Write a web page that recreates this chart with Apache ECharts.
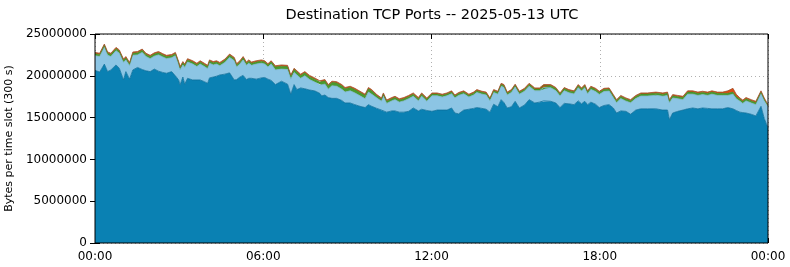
<!DOCTYPE html>
<html>
<head>
<meta charset="utf-8">
<script src="https://cdn.jsdelivr.net/npm/echarts@6/dist/echarts.min.js"></script>
<style>
html,body{margin:0;padding:0;background:#fff;}
#c{width:790px;height:267px;}
</style>
</head>
<body>
<div id="c"></div>
<script>
// minutes since 00:00 UTC, 2025-05-13
const times = [
0,10,20,27,34,45,52,61,66,74,81,91,101,109,118,127,136,145,153,164,172,179,182,188,192,198,209,218,225,234,241,
245,253,260,267,278,288,298,303,310,317,324,329,335,345,356,363,370,377,386,399,412,419,426,432,440,449,459,470,481,
485,492,499,507,517,528,535,546,556,567,578,585,592,603,613,617,624,635,642,651,661,671,681,692,699,710,
721,732,743,753,763,770,778,789,800,810,817,828,837,845,853,862,869,875,882,891,899,908,919,929,941,951,960,
964,975,986,995,1004,1014,1025,1034,1041,1048,1054,1061,1071,1079,1089,1100,1109,1116,1125,1136,1146,1157,1168,1182,1200,
1204,1215,1225,1229,1236,1247,1258,1268,1279,1290,1300,1311,1320,1332,1343,1354,1365,1372,1380,1386,1393,1404,1414,1425,1432,1440
];
// values in millions of bytes per slot
const darkBlue = [
20.65,20.45,21.4,20.5,20.7,21.3,20.9,19.5,20.5,19.6,20.7,21.0,20.75,20.6,20.5,20.8,20.55,20.4,20.3,20.5,20.0,19.5,18.9,19.85,19.0,19.7,19.5,19.5,19.5,19.3,19.1,
19.75,19.85,19.95,20.1,20.2,20.35,19.5,19.55,19.85,20.05,19.55,19.7,19.7,19.6,19.75,19.8,19.6,19.45,18.95,19.35,19.0,17.8,18.95,18.35,18.55,18.45,18.3,18.2,17.9,
17.6,17.7,17.4,17.3,17.3,17.05,16.75,16.75,16.55,16.35,16.2,16.55,16.35,16.1,15.9,15.75,15.65,15.8,15.8,15.65,15.65,15.75,16.15,15.8,16.0,15.85,
15.75,15.9,15.9,15.9,16.15,15.55,15.45,15.9,16.0,16.1,16.2,16.1,16.0,15.65,16.6,16.3,17.15,16.8,16.15,16.3,16.95,16.15,16.5,17.15,16.75,16.85,17.0,
16.9,16.95,16.75,16.2,16.7,16.65,16.55,17.0,16.65,16.95,16.55,16.85,16.6,16.2,16.45,16.55,16.15,15.55,15.8,15.75,15.4,15.9,16.05,16.05,16.05,
16.0,15.9,15.9,14.75,15.55,15.75,15.9,16.05,16.15,16.05,16.15,16.1,16.05,16.05,16.05,16.2,16.05,15.85,15.65,15.6,15.55,15.4,15.2,16.35,14.9,13.75
];
const lightBlue = [
1.75,1.85,2.0,1.95,1.6,1.7,1.8,2.1,1.4,1.6,1.75,1.5,2.05,1.7,1.55,1.55,1.95,1.85,1.75,1.65,2.4,1.8,1.8,1.45,2.0,1.95,1.9,1.6,1.9,1.8,1.75,
1.75,1.45,1.45,1.1,1.4,1.85,2.3,1.5,1.55,1.85,1.7,1.8,1.55,1.8,1.75,1.6,1.45,1.95,1.75,1.45,1.75,1.8,1.45,1.75,1.15,1.55,1.25,1.05,1.0,
1.3,1.3,1.0,1.5,1.45,1.35,1.3,1.45,1.4,1.25,1.05,1.5,1.45,1.25,1.05,1.8,1.05,1.2,1.35,1.2,1.35,1.5,1.4,1.2,1.55,1.1,
1.85,1.7,1.55,1.7,1.7,1.8,2.2,1.95,1.45,1.6,1.8,1.7,1.7,1.35,1.4,1.5,1.6,1.8,1.55,1.7,1.7,1.65,1.65,1.6,1.45,1.35,1.6,
1.57,1.62,1.47,1.37,1.52,1.32,1.27,1.57,1.52,1.62,1.27,1.52,1.52,1.57,1.67,1.62,1.22,1.22,1.47,1.22,1.37,1.37,1.52,1.52,1.62,
1.65,1.65,1.75,2.0,1.8,1.5,1.25,1.75,1.65,1.6,1.6,1.55,1.75,1.6,1.6,1.45,1.75,1.4,1.3,1.1,1.45,1.35,1.35,1.5,2.1,2.45
];
const green = [
0.25,0.25,0.25,0.25,0.25,0.25,0.25,0.25,0.25,0.25,0.25,0.25,0.25,0.25,0.25,0.25,0.25,0.25,0.25,0.25,0.25,0.25,0.25,0.25,0.25,0.25,0.25,0.25,0.25,0.25,0.25,
0.25,0.25,0.25,0.25,0.25,0.25,0.25,0.25,0.25,0.25,0.25,0.25,0.25,0.25,0.25,0.25,0.25,0.25,0.35,0.35,0.35,0.35,0.35,0.35,0.35,0.35,0.35,0.35,0.35,
0.4,0.4,0.4,0.4,0.4,0.4,0.4,0.4,0.4,0.4,0.4,0.4,0.4,0.25,0.25,0.25,0.25,0.25,0.25,0.25,0.25,0.25,0.25,0.25,0.25,0.25,
0.22,0.22,0.22,0.22,0.22,0.22,0.22,0.22,0.22,0.22,0.22,0.22,0.22,0.22,0.22,0.22,0.22,0.22,0.22,0.22,0.22,0.22,0.22,0.22,0.22,0.22,0.22,
0.25,0.25,0.25,0.25,0.25,0.25,0.25,0.25,0.25,0.25,0.25,0.25,0.25,0.25,0.25,0.25,0.25,0.25,0.25,0.25,0.25,0.25,0.25,0.25,0.25,
0.25,0.25,0.25,0.25,0.25,0.25,0.25,0.25,0.25,0.25,0.25,0.25,0.25,0.25,0.25,0.25,0.25,0.25,0.25,0.25,0.25,0.25,0.25,0.2,0.2,0.2
];
const red = [
0.15,0.15,0.15,0.15,0.15,0.15,0.15,0.15,0.15,0.15,0.15,0.15,0.15,0.15,0.15,0.15,0.15,0.15,0.15,0.15,0.15,0.15,0.15,0.15,0.15,0.15,0.15,0.15,0.15,0.15,0.15,
0.15,0.15,0.15,0.15,0.15,0.15,0.15,0.15,0.15,0.15,0.15,0.15,0.15,0.15,0.15,0.15,0.15,0.15,0.15,0.15,0.15,0.15,0.15,0.15,0.15,0.15,0.15,0.15,0.15,
0.15,0.15,0.15,0.15,0.15,0.15,0.15,0.15,0.15,0.15,0.15,0.15,0.15,0.15,0.15,0.15,0.15,0.15,0.15,0.15,0.15,0.15,0.15,0.15,0.15,0.15,
0.13,0.13,0.13,0.13,0.13,0.13,0.13,0.13,0.13,0.13,0.13,0.13,0.13,0.13,0.13,0.13,0.13,0.13,0.13,0.13,0.13,0.13,0.13,0.13,0.13,0.13,0.13,
0.13,0.13,0.13,0.13,0.13,0.13,0.13,0.13,0.13,0.13,0.13,0.13,0.13,0.13,0.13,0.13,0.13,0.13,0.13,0.13,0.13,0.13,0.13,0.13,0.13,
0.15,0.15,0.15,0.15,0.15,0.15,0.15,0.15,0.15,0.15,0.15,0.15,0.15,0.15,0.15,0.3,0.45,0.3,0.15,0.15,0.15,0.15,0.15,0.15,0.15,0.15
];
const xTickLabels = ['00:00','06:00','12:00','18:00','00:00'];
const UNIT = 1e6;
const DAY0 = Date.UTC(2025, 4, 13);
const MIN = 60000;

const font = 'DejaVu Sans';
const chart = echarts.init(document.getElementById('c'), null, {renderer:'canvas'});
function mk(name, arr, color, lineColor){
  return {
    name: name, type:'line', stack:'total', symbol:'none', showSymbol:false,
    smooth:false, animation:false, z:2, xAxisIndex:0, yAxisIndex:0,
    lineStyle:{width:0.8, color: lineColor},
    areaStyle:{color: color, opacity:1},
    data: times.map((t,i)=>[DAY0 + t*MIN, arr[i]*UNIT])
  };
}
const baseX = {min:0, max:1440, interval:360};
const baseY = {min:0, max:25000000, interval:5000000};
chart.setOption({
  useUTC:true,
  animation:false,
  backgroundColor:'#fff',
  title:{text:'Destination TCP Ports -- 2025-05-13 UTC', left:427, top:3, textAlign:'center',
    textStyle:{fontFamily:font, fontSize:14.5, fontWeight:'normal', color:'#000'}},
  grid:{left:95, right:22, top:34, bottom:24, show:true, borderColor:'#000', borderWidth:1,
    backgroundColor:'transparent', z:10, containLabel:false, outerBoundsMode:'none'},
  xAxis:[
    // time axis used by the series (hidden)
    {type:'time', show:false, position:'bottom', min:DAY0, max:DAY0 + 1440*MIN},
    // visible hour axis for labels, grid lines and ticks
    Object.assign({type:'value', position:'bottom', offset:0,
      axisLine:{show:false}, axisTick:{show:true, inside:true, length:5, lineStyle:{color:'#000'}},
      axisLabel:{fontFamily:font, fontSize:12, color:'#000', margin:8,
        formatter:(v)=> xTickLabels[Math.round(v/360)]},
      splitLine:{show:true, lineStyle:{color:'#b0b0b0', type:[1,3], width:1}}}, baseX),
    Object.assign({type:'value', position:'top', z:10,
      axisLine:{show:false}, axisTick:{show:true, inside:true, length:5, lineStyle:{color:'#000'}},
      axisLabel:{show:false}, splitLine:{show:false}}, baseX)
  ],
  yAxis:[
    Object.assign({type:'value', position:'left',
      name:'Bytes per time slot (300 s)', nameLocation:'middle', nameGap:74, nameRotate:90,
      nameTextStyle:{fontFamily:font, fontSize:11, color:'#000'},
      axisLine:{show:false}, axisTick:{show:true, inside:true, length:5, lineStyle:{color:'#000'}},
      axisLabel:{fontFamily:font, fontSize:12, color:'#000', margin:8, formatter:(v)=>String(v)},
      splitLine:{show:true, lineStyle:{color:'#b0b0b0', type:[1,3], width:1}}}, baseY),
    Object.assign({type:'value', position:'right', z:10,
      axisLine:{show:false}, axisTick:{show:true, inside:true, length:5, lineStyle:{color:'#000'}},
      axisLabel:{show:false}, splitLine:{show:false}}, baseY)
  ],
  series:[
    mk('dark', darkBlue, '#0a81b3', '#0b6f9b'),
    mk('light', lightBlue, '#8cc5e4', '#7fb6d6'),
    mk('green', green, '#4a9a2e', '#3f8a26'),
    mk('red', red, '#e04a14', '#a0522d')
  ]
});
</script>
</body>
</html>
